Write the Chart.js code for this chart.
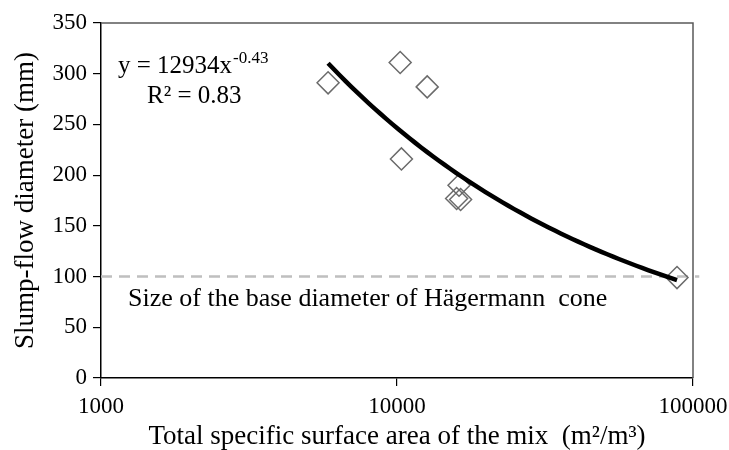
<!DOCTYPE html>
<html>
<head>
<meta charset="utf-8">
<script src="https://cdn.jsdelivr.net/npm/chart.js@4.4.0/dist/chart.umd.min.js"></script>
<style>
  html, body { margin: 0; padding: 0; background: #fff; }
  #wrap { width: 729px; height: 450px; }
</style>
</head>
<body>
<div id="wrap"><canvas id="slumpChart"></canvas></div>
<script>
// measured mixes: specific surface area (m2/m3) vs slump-flow (mm)
const surfaceArea = [5850, 10250, 12650, 10350, 16200, 15900, 16400, 88300];
const slumpFlow = [291, 311, 287, 216, 190, 177, 176, 99];

const xTicks = [1000, 10000, 100000];
const yMin = 0, yMax = 350, yStep = 50;

// power trendline y = a * x^b
const fitCoef = 12934;
const fitExp = -0.43;
const fitR2 = 0.83;

// Hägermann cone base diameter (mm)
const coneBase = 100;
const coneLabel = "Size of the base diameter of H\u00e4germann  cone";

const FONT = "'Liberation Serif', 'Times New Roman', serif";

const points = surfaceArea.map((x, i) => ({ x: x, y: slumpFlow[i] }));

// trendline sampled over the data range
const xLo = Math.min(...surfaceArea), xHi = Math.max(...surfaceArea);
const fitPoints = [];
for (let i = 0; i <= 60; i++) {
  const x = Math.pow(10, Math.log10(xLo) + (Math.log10(xHi) - Math.log10(xLo)) * i / 60);
  fitPoints.push({ x: x, y: fitCoef * Math.pow(x, fitExp) });
}

const conePoints = [{ x: xTicks[0], y: coneBase }, { x: 105000, y: coneBase }];

// top/right frame plus the text labels inside the plot
const extras = {
  id: "extras",
  beforeDatasetsDraw(chart) {
    const { ctx, chartArea: a } = chart;
    ctx.save();
    ctx.strokeStyle = "#595959";
    ctx.lineWidth = 1.5;
    ctx.beginPath();
    ctx.moveTo(a.left, a.top);
    ctx.lineTo(a.right, a.top);
    ctx.lineTo(a.right, a.bottom);
    ctx.stroke();
    ctx.restore();
  },
  afterDraw(chart) {
    const { ctx, chartArea: a } = chart;
    ctx.save();
    ctx.fillStyle = "#000";
    ctx.textBaseline = "alphabetic";
    ctx.textAlign = "left";

    // equation
    ctx.font = "25px " + FONT;
    const eq = "y = " + fitCoef + "x";
    const ex = a.left + 17, ey = a.top + 50;
    ctx.fillText(eq, ex, ey);
    const w = ctx.measureText(eq).width;
    ctx.font = "17px " + FONT;
    ctx.fillText(String(fitExp), ex + w + 1, ey - 10);

    ctx.font = "25px " + FONT;
    ctx.fillText("R\u00b2 = " + fitR2.toFixed(2), a.left + 46, a.top + 80);

    // cone label under the dashed line
    ctx.font = "26px " + FONT;
    const yPix = chart.scales.y.getPixelForValue(coneBase);
    ctx.fillText(coneLabel, a.left + 27, yPix + 29);
    ctx.restore();
  }
};

new Chart(document.getElementById("slumpChart"), {
  type: "scatter",
  data: {
    datasets: [
      {
        label: "Power fit",
        data: fitPoints,
        showLine: true,
        borderColor: "#000",
        borderWidth: 4.5,
        pointRadius: 0,
        tension: 0,
        order: 0
      },
      {
        label: "Mixes",
        data: points,
        pointStyle: "rectRot",
        pointRadius: 11,
        pointBorderColor: "#6b6b6b",
        pointBorderWidth: 1.5,
        pointBackgroundColor: "rgba(0,0,0,0)",
        order: 1
      },
      {
        label: "Cone base",
        data: conePoints,
        showLine: true,
        borderColor: "#bfbfbf",
        borderWidth: 2.5,
        borderDash: [11, 7],
        pointRadius: 0,
        clip: false,
        order: 2
      }
    ]
  },
  options: {
    responsive: true,
    maintainAspectRatio: false,
    animation: false,
    events: [],
    layout: { padding: { top: 23, right: 36, left: 0, bottom: 0 } },
    plugins: {
      legend: { display: false },
      tooltip: { enabled: false }
    },
    scales: {
      x: {
        type: "logarithmic",
        min: xTicks[0],
        max: xTicks[xTicks.length - 1],
        afterBuildTicks: (scale) => {
          scale.ticks = xTicks.map((v) => ({ value: v }));
        },
        afterFit: (scale) => {
          scale.height = 72;
          scale.paddingLeft = 0;
          scale.paddingRight = 0;
        },
        ticks: {
          callback: (v) => String(v),
          autoSkip: false,
          maxRotation: 0,
          color: "#000",
          padding: 7,
          font: { family: FONT, size: 23 }
        },
        grid: { drawOnChartArea: false, tickLength: 8, color: "#000", lineWidth: 1.2 },
        border: { color: "#000", width: 1.5 },
        title: {
          display: true,
          text: "Total specific surface area of the mix  (m\u00b2/m\u00b3)",
          color: "#000",
          padding: { top: 0, bottom: -3 },
          font: { family: FONT, size: 27 }
        }
      },
      y: {
        min: yMin,
        max: yMax,
        ticks: {
          stepSize: yStep,
          color: "#000",
          padding: 6,
          font: { family: FONT, size: 23 }
        },
        afterFit: (scale) => { scale.width = 101; },
        grid: { drawOnChartArea: false, tickLength: 8, color: "#000", lineWidth: 1.2 },
        border: { color: "#000", width: 1.5 },
        title: {
          display: true,
          text: "Slump-flow diameter (mm)",
          color: "#000",
          padding: { top: 10, bottom: 0 },
          font: { family: FONT, size: 27 }
        }
      }
    }
  },
  plugins: [extras]
});
</script>
</body>
</html>
